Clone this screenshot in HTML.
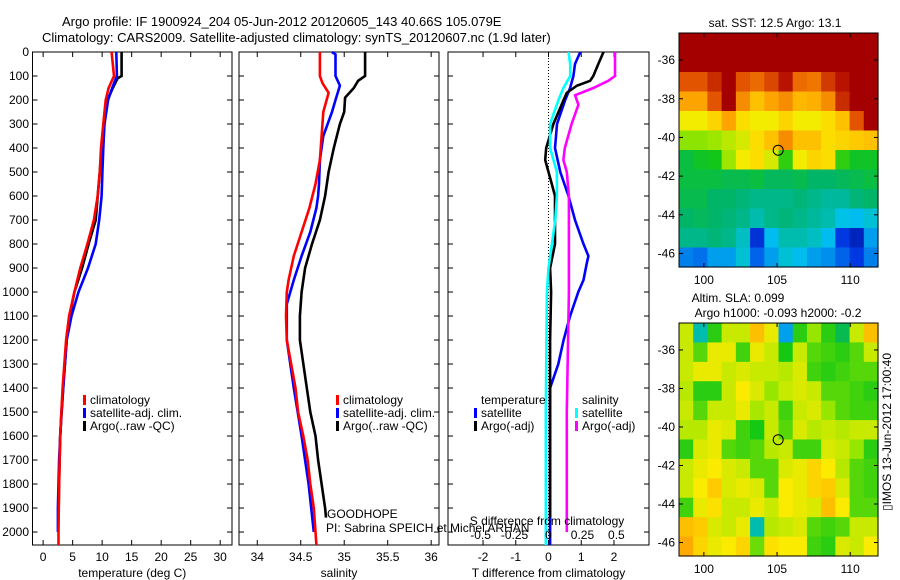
<!DOCTYPE html>
<html><head><meta charset="utf-8"><style>
body{margin:0;background:#fff;}
svg{display:block;font-family:"Liberation Sans",sans-serif;}
text{font-size:12px;fill:#000;}
</style></head><body>
<svg id="fig" width="900" height="580" viewBox="0 0 900 580" xmlns="http://www.w3.org/2000/svg">
<text x="62" y="26" style="font-size:13px">Argo profile: IF 1900924_204 05-Jun-2012 20120605_143 40.66S 105.079E</text>
<text x="42" y="42" style="font-size:13px">Climatology: CARS2009. Satellite-adjusted climatology: synTS_20120607.nc (1.9d later)</text>
<g id="layer"></g>
</svg>
<script>
// ---- profile data ----
const tempClimDepth=[0,100,150,200,300,400,500,600,700,800,900,1000,1100,1200,1400,1600,1800,2000,2054];
const tempClim=[11.6,12.0,11.1,10.6,10.2,9.8,9.6,9.25,8.6,7.5,6.3,5.3,4.4,3.9,3.3,2.9,2.7,2.6,2.6];
const tempSatDepth=[0,100,150,200,300,400,500,600,700,800,900,1000,1100,1200,1400,1500,1700,1900,2000];
const tempSat=[12.4,12.5,11.7,11.0,10.4,10.2,10.05,9.9,9.5,8.9,7.6,6.0,4.8,4.0,3.4,3.1,2.7,2.5,2.5];
const tempArgoDepth=[0,100,110,150,200,300,400,500,600,700,800,900,1000,1100,1200,1400,1600,1800,1940];
const tempArgo=[13.3,13.3,12.6,11.8,10.9,10.3,9.9,9.6,9.25,8.9,7.7,6.6,5.3,4.5,4.0,3.4,2.9,2.7,2.6];

const salClimDepth=[0,100,130,170,250,350,450,550,650,750,850,950,1000,1100,1200,1400,1500,1600,1700,1800,1900,2000,2054];
const salClim=[34.72,34.72,34.75,34.82,34.76,34.74,34.72,34.67,34.60,34.51,34.42,34.36,34.34,34.33,34.34,34.44,34.47,34.53,34.58,34.61,34.65,34.67,34.68];
const salSatDepth=[0,10,100,140,200,250,350,450,550,600,650,750,850,950,1050,1200,1400,1600,1800,2000];
const salSat=[34.86,34.9,34.9,34.95,34.9,34.86,34.76,34.72,34.71,34.70,34.68,34.61,34.51,34.42,34.34,34.34,34.42,34.51,34.59,34.65];
const salArgoDepth=[0,100,120,150,190,250,300,400,500,600,700,800,900,1000,1100,1200,1400,1500,1600,1700,1800,1900,1940];
const salArgo=[35.24,35.24,35.16,35.11,35.01,35.0,34.95,34.88,34.82,34.78,34.72,34.63,34.55,34.51,34.49,34.49,34.57,34.61,34.67,34.70,34.74,34.78,34.79];

const dTSatDepth=[0,50,100,150,200,300,400,500,600,700,800,850,880,950,1000,1100,1200,1300,1400,2000,2054];
const dTSat=[0.97,0.81,0.76,0.66,0.51,0.26,0.2,0.36,0.61,0.81,1.07,1.22,1.17,1.07,0.91,0.66,0.46,0.3,0.05,0.05,0.05];
const dTArgoDepth=[0,50,100,120,140,170,200,300,400,450,500,550,600,800,900,1000,1200,1940];
const dTArgo=[1.68,1.52,1.37,1.27,0.87,0.56,0.46,0.15,-0.07,-0.1,0,0.1,0.2,0.2,0.05,0.08,0.05,0.05];
const dSSatDepth=[0,50,100,150,200,300,400,450,500,600,700,800,900,1000,1500,2054];
const dSSat=[0.147,0.16,0.16,0.11,0.074,0.012,0.012,0.037,0.062,0.062,0.05,0.025,0,-0.012,-0.02,-0.02];
const dSArgoDepth=[0,100,120,150,180,220,300,400,450,500,600,800,1000,1500,2000];
const dSArgo=[0.49,0.49,0.44,0.33,0.196,0.22,0.17,0.12,0.11,0.135,0.15,0.15,0.15,0.135,0.135];

const depthTicks=[0,100,200,300,400,500,600,700,800,900,1000,1100,1200,1300,1400,1500,1600,1700,1800,1900,2000];
const tempTicks=[0,5,10,15,20,25,30];
const salTicks=[34,34.5,35,35.5,36];
const dTTicks=[-2,-1,0,1,2];
const dSTicks=[-0.5,-0.25,0,0.25,0.5];
const lonTicks=[100,105,110];
const latTicks=[-36,-38,-40,-42,-44,-46];

// ---- map data ----
const sstGrid=[
[16,16,16,16,16,16,16,16,16,16,16,16,16,16],
[15.5,16,16,16,16,15.8,16,16,16,16,16,16,16,16],
[14.5,14.5,14.8,15.5,14.5,14.3,14.6,15,14.3,14.2,14.7,15,16,16],
[13.8,13.8,14.5,15.5,14,13.5,13.8,14,13.6,13.7,14,14.8,16,16],
[13,13,13.3,13.8,13.2,13,13,13.3,13,13,13.2,13.5,14.5,16],
[12.3,12.3,12.4,12.6,12.8,13.2,13.5,14,13.5,13.5,13.2,13.3,13.4,13.5],
[11.3,11.5,11.6,12.4,13,13.2,12.8,11.8,13,13.3,13.2,11.8,11.5,11.5],
[11.3,11.3,11.3,11.2,11.2,11.3,11.1,11.1,11.2,11,11,11.1,11.2,11.3],
[11.2,11.2,11,11,10.9,10.8,10.8,10.8,10.9,10.8,10.7,10.7,10.9,11],
[11,11.1,11,10.9,10.8,10.6,10.8,10.9,10.8,10.7,10.6,10.3,10.2,10.4],
[10.8,10.8,10.9,10.8,10.5,9.2,10.2,10.6,10.6,10.5,10.2,9.3,9,10],
[9.8,9.7,10,10,10.4,9.6,10,10.4,10.2,10,9.9,9.6,9.3,9.8]];
const slaGrid=[
[0.03,-0.15,-0.05,0.03,0.03,0.1,0.05,-0.2,-0.05,0.0,-0.05,-0.1,0.03,0.1],
[0.03,-0.03,0.05,0.05,-0.04,0.05,0.03,-0.06,0.03,-0.03,-0.04,-0.05,-0.03,0.03],
[0.03,0.05,0.05,0.03,0.04,0.03,0.03,0.02,0.04,-0.04,-0.05,-0.04,-0.03,-0.03],
[0.02,-0.05,-0.05,0.03,0.06,0.04,0.0,0.03,0.04,0.03,-0.03,-0.03,-0.04,-0.05],
[0.03,-0.03,0.03,0.03,0.05,0.01,0.03,-0.04,0.03,0.04,0.0,-0.03,-0.04,-0.04],
[0.02,0.02,0.05,0.04,-0.04,-0.06,0.03,-0.03,0.04,0.02,0.03,0.02,0.03,0.03],
[-0.05,0.04,0.05,-0.03,-0.04,-0.03,0.02,0.03,-0.04,-0.04,0.04,0.03,0.0,-0.05],
[0.03,0.05,0.06,0.04,0.03,-0.03,-0.03,0.04,0.05,0.08,0.06,0.02,-0.03,-0.04],
[0.03,0.06,0.09,0.04,0.05,0.04,-0.03,0.06,0.05,0.08,0.09,0.04,-0.03,-0.04],
[-0.04,0.05,0.07,0.03,0.03,0.05,0.03,0.06,0.05,0.04,0.1,0.06,-0.03,-0.03],
[0.1,0.09,0.04,0.03,0.05,-0.15,0.02,0.03,0.04,-0.03,-0.04,-0.03,0.03,0.03],
[0.12,0.08,0.05,0.06,0.08,-0.02,0.07,0.06,0.06,-0.04,-0.05,0.04,0.03,0.06]];
const floatLon=105.079, floatLat=-40.66;

const NS="http://www.w3.org/2000/svg";
const layer=document.getElementById('layer');
function mk(tag,attrs,parent){const e=document.createElementNS(NS,tag);for(const k in attrs)e.setAttribute(k,attrs[k]);(parent||layer).appendChild(e);return e;}
function txt(x,y,s,anchor,parent){const t=mk('text',{x:x,y:y,'text-anchor':anchor||'start'},parent);t.textContent=s;return t;}

const yTop=52, yBot=545, dMax=2054;
const yD=d=>yTop+(d/dMax)*(yBot-yTop);
function scale(d0,d1,r0,r1){return v=>r0+(v-d0)/(d1-d0)*(r1-r0);}

function panel(name,x0,x1,xs,ticks,tickLabel,xlabel){
  const g=mk('g',{});
  
  
  const r=mk('rect',{x:x0,y:yTop,width:x1-x0,height:yBot-yTop,fill:'none',stroke:'#000','stroke-width':1},g);
  
  
  depthTicks.forEach(d=>{const y=yD(d);mk('line',{x1:x0,x2:x0+5,y1:y,y2:y,stroke:'#000'},g);mk('line',{x1:x1-5,x2:x1,y1:y,y2:y,stroke:'#000'},g);});
  if(ticks) ticks.forEach(v=>{const x=xs(v);mk('line',{x1:x,x2:x,y1:yTop,y2:yTop+5,stroke:'#000'},g);mk('line',{x1:x,x2:x,y1:yBot-5,y2:yBot,stroke:'#000'},g);
    const t=txt(x,561,tickLabel?tickLabel(v):String(v),'middle',g);
    
    });
  if(xlabel){const t=txt((x0+x1)/2,577,xlabel,'middle',g);
    
    }
  return g;
}
function line(g,name,xs,vals,depths,color){
  const pts=vals.map((v,i)=>xs(v).toFixed(1)+','+yD(depths[i]).toFixed(1)).join(' ');
  const p=mk('polyline',{points:pts,fill:'none',stroke:color,'stroke-width':2.6,'stroke-linejoin':'miter'},g);
  
  
}
function legend(g,x,y,color,label){
  mk('rect',{x:x,y:y-9,width:3,height:10,fill:color},g);
  const t=txt(x+7,y,label,'start',g);
  
  
}

// Panel 1: temperature
const xT=scale(-1.8,32,32.5,232);
const p1=panel('temperature-panel',32.5,232,xT,tempTicks,null,'temperature (deg C)');
depthTicks.forEach(d=>{const t=txt(29,yD(d)+4,String(d),'end',p1);
  
  });
line(p1,'temp-argo-line',xT,tempArgo,tempArgoDepth,'#000');
line(p1,'temp-satellite-line',xT,tempSat,tempSatDepth,'#0000ff');
line(p1,'temp-climatology-line',xT,tempClim,tempClimDepth,'#ff0000');
legend(p1,83,404,'#ff0000','climatology');
legend(p1,83,417,'#0000ff','satellite-adj. clim.');
legend(p1,83,430,'#000','Argo(..raw -QC)');

// Panel 2: salinity
const xS=scale(33.79,36.09,239,439);
const p2=panel('salinity-panel',239,439,xS,salTicks,null,'salinity');
line(p2,'sal-argo-line',xS,salArgo,salArgoDepth,'#000');
line(p2,'sal-satellite-line',xS,salSat,salSatDepth,'#0000ff');
line(p2,'sal-climatology-line',xS,salClim,salClimDepth,'#ff0000');
legend(p2,336,404,'#ff0000','climatology');
legend(p2,336,417,'#0000ff','satellite-adj. clim.');
legend(p2,336,430,'#000','Argo(..raw -QC)');

// Panel 3: differences
const xDT=scale(-3.07,3.07,448,649);
const xDS=scale(-0.74,0.74,448,649);
const p3=panel('difference-panel',448,649,xDT,dTTicks,null,'T difference from climatology');
const zl=mk('line',{x1:xDT(0),x2:xDT(0),y1:yTop,y2:yBot,stroke:'#000','stroke-dasharray':'1,2'},p3);


line(p3,'dT-satellite-line',xDT,dTSat,dTSatDepth,'#0000ff');
line(p3,'dT-argo-line',xDT,dTArgo,dTArgoDepth,'#000');
line(p3,'dS-satellite-line',xDS,dSSat,dSSatDepth,'#00ffff');
line(p3,'dS-argo-line',xDS,dSArgo,dSArgoDepth,'#ff00ff');
dSTicks.forEach(v=>{const t=txt(xDS(v),539,String(v),'middle',p3);
  
  });
const sdt=txt(547,525,'S difference from climatology','middle',p3);


txt(481,404,'temperature','start',p3);
legend(p3,474,417,'#0000ff','satellite');
legend(p3,474,430,'#000','Argo(-adj)');
txt(582,404,'salinity','start',p3);
legend(p3,575,417,'#00ffff','satellite');
legend(p3,575,430,'#ff00ff','Argo(-adj)');
const gh=txt(327,518,'GOODHOPE','start');


const pi=txt(326,532,'PI: Sabrina SPEICH et Michel ARHAN','start');



// ---- maps ----
const stops=[[0,[0,0,130]],[0.12,[0,60,230]],[0.25,[0,195,240]],[0.35,[0,180,110]],[0.45,[20,200,20]],[0.55,[150,230,0]],[0.65,[250,235,0]],[0.75,[255,170,0]],[0.85,[230,90,0]],[0.95,[170,0,0]],[1,[165,0,0]]];
function cmap(f){f=Math.max(0,Math.min(1,f));for(let i=1;i<stops.length;i++){if(f<=stops[i][0]){const a=stops[i-1],b=stops[i];const t=(f-a[0])/(b[0]-a[0]);return 'rgb('+a[1].map((c,k)=>Math.round(c+(b[1][k]-c)*t)).join(',')+')';}}return 'rgb(165,0,0)';}
const lonMin=98.3, lonMax=111.9, latTop=-34.6, latBot=-46.7;
function drawMap(name,grid,vmin,vmax,y0,y1){
  const g=mk('g',{});
  
  
  const xL=scale(lonMin,lonMax,679,878), yL=scale(latTop,latBot,y0,y1);
  const nr=grid.length,nc=grid[0].length;
  const dLon=(lonMax-lonMin)/nc,dLat=(latBot-latTop)/nr;
  grid.forEach((row,r)=>row.forEach((v,c)=>{
    const xa=xL(lonMin+c*dLon),xb=xL(lonMin+(c+1)*dLon),ya=yL(latTop+r*dLat),yb=yL(latTop+(r+1)*dLat);
    const cell=mk('rect',{x:xa,y:ya,width:xb-xa+0.6,height:yb-ya+0.6,fill:cmap((v-vmin)/(vmax-vmin))},g);
    
    
  }));
  mk('rect',{x:679,y:y0,width:199,height:y1-y0,fill:'none',stroke:'#000'},g);
  lonTicks.forEach(v=>{const x=xL(v);mk('line',{x1:x,x2:x,y1:y0,y2:y0+4,stroke:'#000'},g);mk('line',{x1:x,x2:x,y1:y1-4,y2:y1,stroke:'#000'},g);
    const t=txt(x,y1+17,String(v),'middle',g);
    
    });
  latTicks.forEach(v=>{const y=yL(v);mk('line',{x1:679,x2:683,y1:y,y2:y,stroke:'#000'},g);mk('line',{x1:874,x2:878,y1:y,y2:y,stroke:'#000'},g);
    const t=txt(675,y+4,String(v),'end',g);
    
    });
  const c=mk('circle',{cx:xL(floatLon),cy:yL(floatLat),r:5,fill:'none',stroke:'#000','stroke-width':1},g);
  
  
  return g;
}
drawMap('sst-map',sstGrid,8.5,15.5,33,267);
drawMap('sla-map',slaGrid,-0.33,0.27,323,556);
const st=txt(775,27,'sat. SST: 12.5 Argo: 13.1','middle');


const a1=txt(738,302,'Altim. SLA: 0.099','middle');


const a2=txt(778,317,'Argo h1000: -0.093 h2000: -0.2','middle');


const im=txt(0,0,'\u25AFIMOS 13-Jun-2012 17:00:40','middle');
im.setAttribute('transform','translate(891,432) rotate(-90)');


</script>
</body></html>
